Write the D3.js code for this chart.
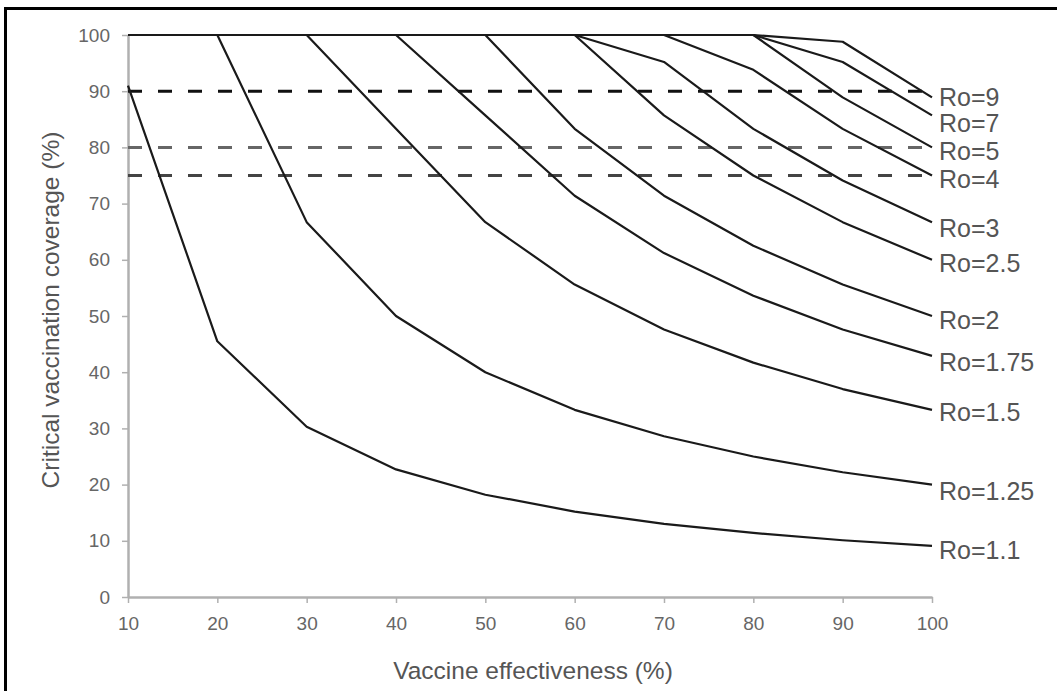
<!DOCTYPE html>
<html>
<head>
<meta charset="utf-8">
<script src="https://cdn.jsdelivr.net/npm/d3@7"></script>
<style>
  body { margin: 0; background: #fff; }
  svg text { font-family: Arial, "Liberation Sans", sans-serif; }
</style>
</head>
<body>
<div class="playground"></div>
<script>
// vaccine effectiveness (%) on the x axis
var effectiveness = [10, 20, 30, 40, 50, 60, 70, 80, 90, 100];

// critical vaccination coverage (%), one array per Ro
var cov1_1  = [91, 45.5, 30.3, 22.7, 18.2, 15.2, 13, 11.4, 10.1, 9.1];
var cov1_25 = [100, 100, 66.7, 50, 40, 33.3, 28.6, 25, 22.2, 20];
var cov1_5  = [100, 100, 100, 83.3, 66.7, 55.6, 47.6, 41.7, 37, 33.3];
var cov1_75 = [100, 100, 100, 100, 85.7, 71.4, 61.2, 53.6, 47.6, 42.9];
var cov2    = [100, 100, 100, 100, 100, 83.3, 71.4, 62.5, 55.6, 50];
var cov2_5  = [100, 100, 100, 100, 100, 100, 85.7, 75, 66.7, 60];
var cov3    = [100, 100, 100, 100, 100, 100, 95.2, 83.3, 74.1, 66.7];
var cov4    = [100, 100, 100, 100, 100, 100, 100, 93.8, 83.3, 75];
var cov5    = [100, 100, 100, 100, 100, 100, 100, 100, 88.9, 80];
var cov7    = [100, 100, 100, 100, 100, 100, 100, 100, 95.2, 85.7];
var cov9    = [100, 100, 100, 100, 100, 100, 100, 100, 98.8, 88.9];

var curveLabels = ["Ro=1.1", "Ro=1.25", "Ro=1.5", "Ro=1.75", "Ro=2", "Ro=2.5",
                   "Ro=3", "Ro=4", "Ro=5", "Ro=7", "Ro=9"];
var curveValues = [cov1_1, cov1_25, cov1_5, cov1_75, cov2, cov2_5,
                   cov3, cov4, cov5, cov7, cov9];

// horizontal dashed target lines
var targets = [90, 80, 75];

var xTicks = [10, 20, 30, 40, 50, 60, 70, 80, 90, 100];
var yTicks = [0, 10, 20, 30, 40, 50, 60, 70, 80, 90, 100];

var width  = 1057,
    height = 691;

// little vertical nudges so the end labels don't collide (pixels)
var labelShift = [4, 7, 2, 6, 4, 3, 6, 4, 4, 8, 0];

var svg = d3.select(".playground")
            .append("svg")
            .attr("width", width)
            .attr("height", height);

// outer frame (only top and left edges are inside the picture)
svg.append("rect")
   .attr("x", 5.5).attr("y", 8.5)
   .attr("width", 1100).attr("height", 800)
   .attr("fill", "none")
   .attr("stroke", "#000")
   .attr("stroke-width", 3);

var x = d3.scaleLinear().domain([10, 100]).range([128, 932]);
var y = d3.scaleLinear().domain([0, 100]).range([597, 35]);

// axes
var xAxis = svg.append("g")
   .attr("transform", "translate(0," + y(0) + ")")
   .call(d3.axisBottom(x).tickValues(xTicks).tickSize(6).tickPadding(14).tickSizeOuter(0));

var yAxis = svg.append("g")
   .attr("transform", "translate(" + x(10) + ",0)")
   .call(d3.axisLeft(y).tickValues(yTicks).tickSize(6).tickPadding(12).tickSizeOuter(0));

[xAxis, yAxis].forEach(function (a) {
  a.select(".domain").attr("stroke", "#b0b0b0").attr("stroke-width", 2.5);
  a.selectAll(".tick line").attr("stroke", "#b0b0b0").attr("stroke-width", 1.5);
  a.selectAll(".tick text")
   .attr("fill", "#666")
   .attr("font-size", 19);
});

// dashed target lines
var dashColour = { 90: "#111", 80: "#666", 75: "#444" };
svg.append("g")
   .selectAll("line")
   .data(targets)
   .enter()
   .append("line")
   .attr("x1", x(10))
   .attr("x2", x(100))
   .attr("y1", function (d) { return y(d); })
   .attr("y2", function (d) { return y(d); })
   .attr("stroke", function (d) { return dashColour[d]; })
   .attr("stroke-width", 3)
   .attr("stroke-dasharray", "14,16");

// curves
var line = d3.line()
             .x(function (d, i) { return x(effectiveness[i]); })
             .y(function (d) { return y(d); });

svg.append("g")
   .selectAll("path")
   .data(curveValues)
   .enter()
   .append("path")
   .attr("d", line)
   .attr("fill", "none")
   .attr("stroke", "#1a1a1a")
   .attr("stroke-width", 2.2)
   .attr("stroke-linejoin", "round");

// curve labels at the right end
svg.append("g")
   .selectAll("text")
   .data(curveValues)
   .enter()
   .append("text")
   .attr("x", x(100) + 7)
   .attr("y", function (d, i) { return y(d[d.length - 1]) + labelShift[i]; })
   .attr("dy", "0.35em")
   .attr("fill", "#555")
   .attr("font-size", 25)
   .text(function (d, i) { return curveLabels[i]; });

// axis titles
svg.append("text")
   .attr("x", 533)
   .attr("y", 670)
   .attr("dy", "0.35em")
   .attr("text-anchor", "middle")
   .attr("fill", "#555")
   .attr("font-size", 24.5)
   .text("Vaccine effectiveness (%)");

svg.append("text")
   .attr("transform", "translate(50,310) rotate(-90)")
   .attr("dy", "0.35em")
   .attr("text-anchor", "middle")
   .attr("fill", "#555")
   .attr("font-size", 24.5)
   .text("Critical vaccination coverage (%)");
</script>
</body>
</html>
